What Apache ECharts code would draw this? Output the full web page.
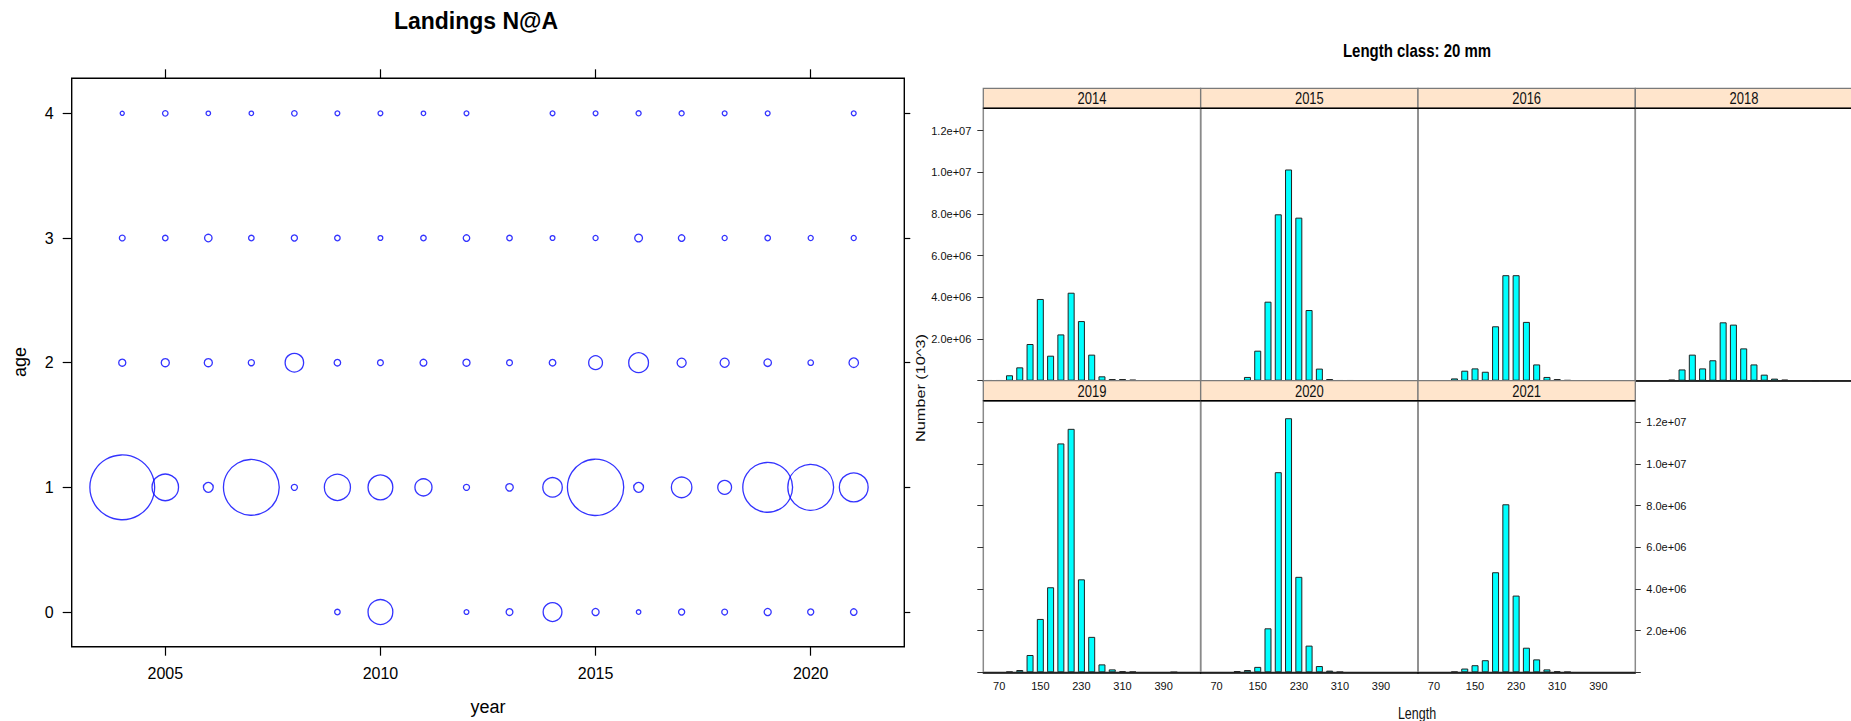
<!DOCTYPE html>
<html><head><meta charset="utf-8">
<script src="https://cdn.jsdelivr.net/npm/echarts@6/dist/echarts.min.js"></script>
<style>html,body{margin:0;padding:0;background:#fff}#c{width:1851px;height:721px}</style>
</head><body><div id="c"></div>
<script>
// ---------------- DATA ----------------
// Landings numbers-at-age (bubble chart), relative units
const years = [2004,2005,2006,2007,2008,2009,2010,2011,2012,2013,2014,2015,2016,2017,2018,2019,2020,2021];
const ages = [0,1,2,3,4];
const naAge0 = [null,null,null,null,null,449,6760,null,360,640,4000,689,325,533,490,689,533,593];
const naAge1 = [43560,7673,1210,32490,533,7453,6760,3349,533,757,4285,33063,1210,4709,2250,26010,22090,9000];
const naAge2 = [689,865,865,533,3881,593,490,640,689,490,608,2250,4410,1061,1061,757,449,1145];
const naAge3 = [490,449,757,449,533,449,360,449,593,449,360,397,810,593,397,449,397,397];
const naAge4 = [281,449,325,325,449,360,360,325,360,null,360,360,397,397,360,360,null,360];
const yearTicks = [2005,2010,2015,2020];
const ageTicks = [0,1,2,3,4];

// Length distributions (number, 10^3) by 20 mm length class
const lenClasses = [50,70,90,110,130,150,170,190,210,230,250,270,290,310,330,350,370,390,410,430];
const panelYears = ['2014','2015','2016','2018','2019','2020','2021'];
const n2014 = [0.02e6,0.02e6,0.26e6,0.64e6,1.76e6,3.92e6,1.20e6,2.22e6,4.22e6,2.86e6,1.25e6,0.21e6,0.08e6,0.08e6,0.05e6,0,0,0,0,0];
const n2015 = [0,0,0,0,0.18e6,1.44e6,3.79e6,7.98e6,10.13e6,7.82e6,3.39e6,0.58e6,0.08e6,0.02e6,0.02e6,0.01e6,0,0,0,0];
const n2016 = [0,0,0,0.11e6,0.48e6,0.59e6,0.43e6,2.61e6,5.06e6,5.06e6,2.82e6,0.78e6,0.18e6,0.08e6,0.03e6,0,0,0,0,0];
const n2018 = [0,0,0,0.05e6,0.54e6,1.25e6,0.59e6,0.98e6,2.80e6,2.69e6,1.55e6,0.78e6,0.29e6,0.10e6,0.05e6,0,0,0.01e6,0,0];
const n2019 = [0,0,0.03e6,0.11e6,0.83e6,2.56e6,4.08e6,10.98e6,11.68e6,4.46e6,1.70e6,0.38e6,0.14e6,0.05e6,0.03e6,0,0,0,0.01e6,0];
const n2020 = [0,0,0,0.06e6,0.11e6,0.26e6,2.11e6,9.60e6,12.19e6,4.58e6,1.28e6,0.30e6,0.08e6,0.02e6,0,0,0,0,0,0];
const n2021 = [0,0,0,0.03e6,0.18e6,0.34e6,0.58e6,4.80e6,8.06e6,3.68e6,1.18e6,0.62e6,0.14e6,0.05e6,0.02e6,0,0,0,0,0];
const lenTicks = [70,150,230,310,390];
const numTicks = [0,2e6,4e6,6e6,8e6,10e6,12e6];
const numLabels = [2e6,4e6,6e6,8e6,10e6,12e6];

// ---------------- LAYOUT ----------------
const SANS = "Liberation Sans, Arial, sans-serif";
const bub = {left:71.7, top:78.3, width:832.6, height:568.4};
const colLeft = [983.3, 1200.7, 1418.0, 1635.3];
const PW = 217.3;
const rowTop = [108.3, 400.7];
const rowH = [272.4, 271.6];
const rowMax = [13.065e6, 13.03e6];
const STRIP_H = 20;
const panelPos = [[0,0],[1,0],[2,0],[3,0],[0,1],[1,1],[2,1]];
const panelData = [n2014,n2015,n2016,n2018,n2019,n2020,n2021];

function sci(v){ if(v===0) return ''; return v.toExponential(1).replace(/e\+(\d)$/,'e+0$1'); }

const grids = [{left:bub.left, top:bub.top, width:bub.width, height:bub.height, show:true, borderColor:'#000', borderWidth:1.4, backgroundColor:'transparent', outerBoundsMode:'none', containLabel:false}];
const xAxes = [
  {gridIndex:0, type:'value', min:2002.825, max:2022.175, position:'bottom',
   axisLine:{show:false, onZero:false}, splitLine:{show:false},
   axisTick:{show:true, length:9, customValues:yearTicks, lineStyle:{color:'#000', width:1.2}},
   axisLabel:{customValues:yearTicks, formatter:(v)=>String(v), fontSize:16, fontFamily:SANS, color:'#000', margin:19}},
  {gridIndex:0, type:'value', min:2002.825, max:2022.175, position:'top',
   axisLine:{show:false, onZero:false}, splitLine:{show:false},
   axisTick:{show:true, length:9, customValues:yearTicks, lineStyle:{color:'#000', width:1.2}},
   axisLabel:{show:false}}
];
const yAxes = [
  {gridIndex:0, type:'value', min:-0.278, max:4.281, position:'left',
   axisLine:{show:false, onZero:false}, splitLine:{show:false},
   axisTick:{show:true, length:9, customValues:ageTicks, lineStyle:{color:'#000', width:1.2}},
   axisLabel:{customValues:ageTicks, formatter:(v)=>String(v), fontSize:16, fontFamily:SANS, color:'#000', margin:18}},
  {gridIndex:0, type:'value', min:-0.278, max:4.281, position:'right',
   axisLine:{show:false, onZero:false}, splitLine:{show:false},
   axisTick:{show:true, length:6, customValues:ageTicks, lineStyle:{color:'#000', width:1.2}},
   axisLabel:{show:false}}
];
const series = [];
const ageArrays = [naAge0,naAge1,naAge2,naAge3,naAge4];
ages.forEach((a,k)=>{
  const data = [];
  years.forEach((y,i)=>{ const v = ageArrays[k][i]; if(v!=null) data.push([y,a,v]); });
  series.push({type:'scatter', xAxisIndex:0, yAxisIndex:0, data:data, symbol:'circle',
    symbolSize:(d)=>Math.sqrt(d[2]/10)-1.2,
    itemStyle:{color:'rgba(0,0,0,0)', borderColor:'#0000FF', borderWidth:1.3},
    emphasis:{disabled:true}, silent:true, z:5});
});

const graphics = [];
function txt(text, x, y, size, opts){
  const base = {text:text, fontSize:size, fontFamily:SANS, fill:'#000',
      align:'center', verticalAlign:'middle', textAlign:'center', textVerticalAlign:'middle'};
  const o = Object.assign({type:'text', x:x, y:y, z:30, silent:true}, opts||{});
  o.style = Object.assign(base, (opts && opts.style) || {});
  return o;
}
panelPos.forEach((p,i)=>{
  const col=p[0], row=p[1];
  const gi = grids.length;
  grids.push({left:colLeft[col], top:rowTop[row], width:PW, height:rowH[row], show:true,
    borderColor:'#8a8a8a', borderWidth:1.5, backgroundColor:'transparent', outerBoundsMode:'none', containLabel:false});
  const xi = xAxes.length;
  xAxes.push({gridIndex:gi, type:'value', min:39, max:462, position:'bottom',
    axisLine:{show:true, onZero:false, lineStyle:{color:'#000', width:1.5}},
    axisTick:{show:false}, splitLine:{show:false},
    axisLabel: row===1 ? {customValues:lenTicks, formatter:(v)=>String(v), fontSize:11, fontFamily:SANS, color:'#111', margin:8} : {show:false}});
  const rightAxis = (row===1 && col===2);
  const hasTicks = (col===0) || rightAxis;
  const hasLabels = (row===0 && col===0) || rightAxis;
  yAxes.push({gridIndex:gi, type:'value', min:0, max:rowMax[row], position: rightAxis?'right':'left',
    axisLine:{show:false, onZero:false}, splitLine:{show:false},
    axisTick:{show:hasTicks, length: rightAxis?5.5:6, customValues:numTicks, lineStyle:{color:'#333', width:1}},
    axisLabel: hasLabels ? {customValues:numLabels, formatter:sci, fontSize:11, fontFamily:SANS, color:'#111', margin: rightAxis?11:12} : {show:false}});
  const data = [];
  lenClasses.forEach((L,j)=>{ if(panelData[i][j]>0) data.push([L, panelData[i][j]]); });
  series.push({type:'bar', xAxisIndex:xi, yAxisIndex:xi, data:data, barWidth:7,
    itemStyle:{color:'#00FFFF', borderColor:'#222', borderWidth:1},
    emphasis:{disabled:true}, silent:true, z:3});
  // strip
  const sx = colLeft[col], sy = rowTop[row]-STRIP_H;
  graphics.push({type:'rect', shape:{x:sx, y:sy, width:PW, height:STRIP_H}, z:20,
    style:{fill:'#FFE5CC', stroke:'#7a7a7a', lineWidth:1.3}, silent:true});
  graphics.push({type:'line', shape:{x1:sx, y1:rowTop[row], x2:sx+PW, y2:rowTop[row]}, z:21,
    style:{stroke:'#000', lineWidth:1.5}, silent:true});
  graphics.push(txt(panelYears[i], sx+PW/2, sy+STRIP_H/2+0.5, 13, {scaleY:1.2, style:{fill:'#111'}}));
});

// titles and axis names
graphics.push(txt('Landings N@A', 476, 21, 23, {style:{fontWeight:'bold'}}));
graphics.push(txt('year', 488, 707, 18));
graphics.push(txt('age', 20, 362, 18, {rotation:Math.PI/2}));
graphics.push(txt('Length class: 20 mm', 1417, 51, 15, {scaleY:1.2, style:{fontWeight:'bold'}}));
graphics.push(txt('Length', 1417, 713, 12.5, {scaleY:1.3, style:{fill:'#111'}}));
graphics.push(txt('Number (10^3)', 921, 388, 13, {rotation:Math.PI/2, scaleX:1.25, style:{fill:'#111'}}));

const chart = echarts.init(document.getElementById('c'), null, {renderer:'svg', width:1851, height:721});
chart.setOption({
  backgroundColor:'#fff',
  animation:false,
  grid:grids, xAxis:xAxes, yAxis:yAxes, series:series,
  graphic:{elements:graphics}
});
</script></body></html>
